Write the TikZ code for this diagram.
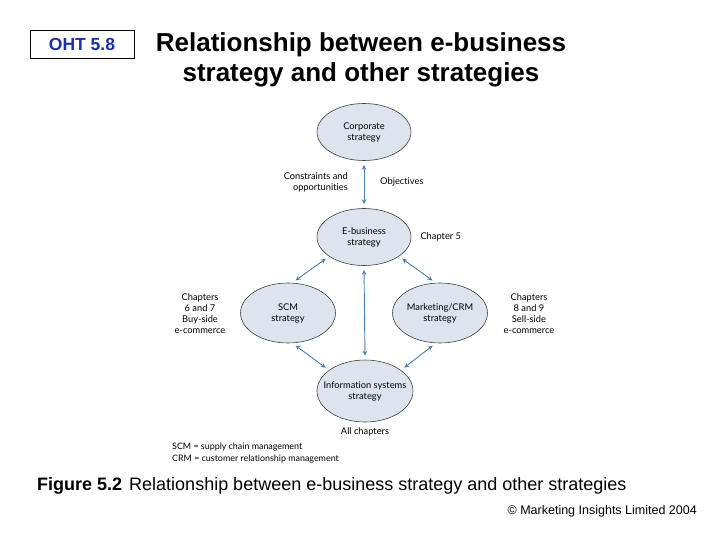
\documentclass[tikz,border=0pt]{standalone}
\usepackage{fontspec}
\setmainfont{Liberation Sans}
\newfontfamily\diagfont[Ligatures=NoCommon]{Lato}
\usetikzlibrary{shapes.geometric, arrows.meta, positioning, calc}
\definecolor{ovalfill}{HTML}{DDE4EE}
\definecolor{arrowblue}{HTML}{4F7FB0}
\definecolor{ohtblue}{HTML}{1A2FB0}

\begin{document}
\begin{tikzpicture}[
  x=1pt, y=-1pt,
  oval/.style={ellipse, draw=black!75, fill=ovalfill, line width=0.6pt, minimum width=94pt, minimum height=57pt, inner xsep=-14pt, inner ysep=0pt, align=center, font=\diagfont\fontsize{9.3}{11}\selectfont},
  lbl/.style={inner sep=0pt, font=\diagfont\fontsize{9.3}{11}\selectfont},
  link/.style={{Stealth[length=5pt,width=4.5pt]}-{Stealth[length=5pt,width=4.5pt]}, arrowblue, line width=0.9pt, shorten >=4pt, shorten <=4pt},
]
\useasboundingbox (0,0) rectangle (728,546);

% header
\node[draw, line width=0.8pt, minimum width=104pt, minimum height=28pt, inner sep=0pt, text=ohtblue, font=\bfseries\fontsize{17.5}{20}\selectfont] (oht) at (82,44) {OHT 5.8};
\node[align=center, font=\bfseries\fontsize{26}{29.5}\selectfont] (title) at (361,60) {Relationship between e-business\\strategy and other strategies};

% strategies
\node[oval] (corp) at (364,132) {Corporate\\strategy};
\node[oval] (ebiz) at (364,237) {E-business\\strategy};
\node[oval, minimum width=95pt, minimum height=60pt] (scm) at (288,313) {SCM\\strategy};
\node[oval, minimum width=95pt, minimum height=60pt] (crm) at (440,313) {Marketing/CRM\\strategy};
\node[oval, minimum width=96pt, minimum height=62pt] (isys) at (365,391) {Information systems\\strategy};

% labels
\node[lbl, align=right, anchor=east] (constr) at (348,182) {Constraints and\\opportunities};
\node[lbl, anchor=west] (obj) at (380,182) {Objectives};
\node[lbl, right=9pt of ebiz] (ch5) {Chapter 5};
\node[lbl, align=center] (buy) at (200,314) {Chapters\\6 and 7\\Buy-side\\e-commerce};
\node[lbl, align=center] (sell) at (529,314) {Chapters\\8 and 9\\Sell-side\\e-commerce};
\node[lbl, below=5pt of isys] (allch) {All chapters};
\node[lbl, align=left, anchor=north west, font=\diagfont\fontsize{8.9}{12}\selectfont] (legend) at (172,443) {SCM = supply chain management\\CRM = customer relationship management};

% connectors
\draw[link] (corp.south) -- (ebiz.north);
\draw[link] (ebiz.south) -- (isys.north);
\draw[link] (ebiz.209) -- (scm.82);
\draw[link] (ebiz.331) -- (crm.98);
\draw[link] (scm.-82) -- (isys.150);
\draw[link] (crm.-98) -- (isys.30);

% caption
\node[anchor=west, inner sep=0pt, font=\fontsize{18}{21}\selectfont] (caption) at (37,486) {\textbf{Figure 5.2}\hspace{7pt}Relationship between e-business strategy and other strategies};
\node[anchor=east, inner sep=0pt, font=\fontsize{12.5}{15}\selectfont] (copy) at (697,511) {\textcopyright{} Marketing Insights Limited 2004};
\end{tikzpicture}
\end{document}
